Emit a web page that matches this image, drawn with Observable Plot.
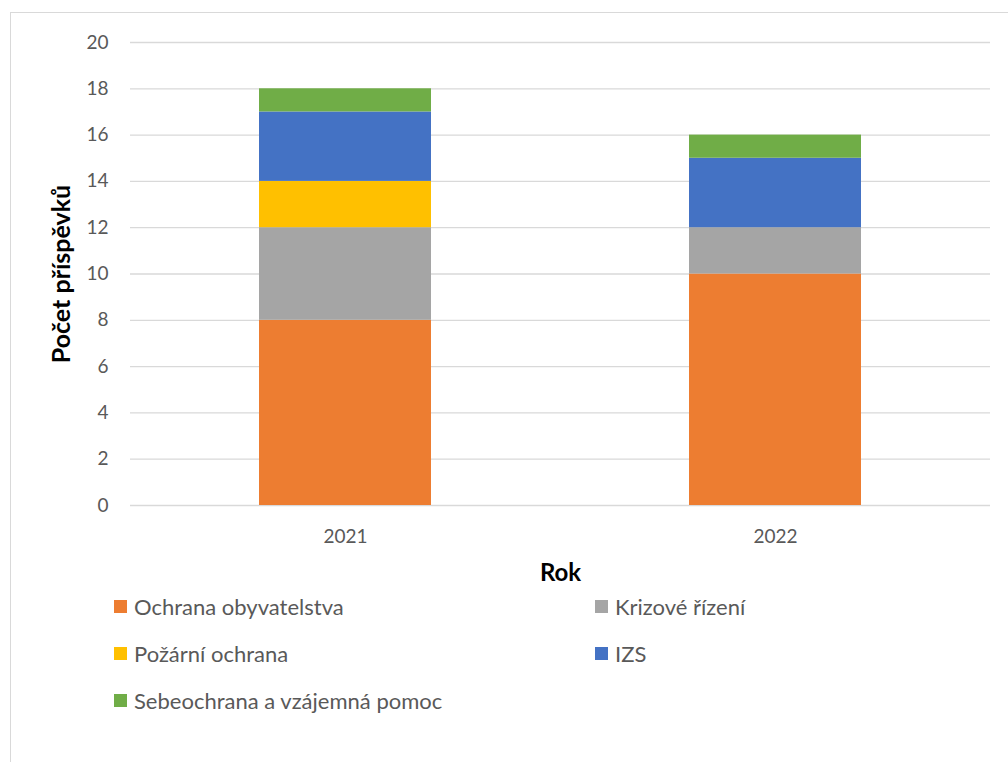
<!DOCTYPE html>
<html>
<head>
<meta charset="utf-8">
<script src="https://cdn.jsdelivr.net/npm/d3@7"></script>
<script src="https://cdn.jsdelivr.net/npm/@observablehq/plot@0.6"></script>
<style>
  html, body { margin: 0; padding: 0; background: #fff; }
  body { width: 1008px; height: 762px; position: relative; overflow: hidden; font-family: Lato, "Liberation Sans", sans-serif; }
  #frame { position: absolute; left: 10px; top: 12px; width: 1100px; height: 900px; border-left: 1.5px solid #d9d9d9; border-top: 1.5px solid #d9d9d9; }
  #chart { position: absolute; left: 0; top: 0; }
  .legend-item { position: absolute; display: flex; align-items: center; font-size: 22px; color: #595959; white-space: nowrap; }
  .legend-item .sw { width: 13px; height: 13px; margin-right: 7px; }
</style>
</head>
<body>
<div id="frame"></div>
<div id="chart"></div>
<div id="legend"></div>
<script>
const years = ["2021", "2022"];
const categories = ["Ochrana obyvatelstva", "Krizové řízení", "Požární ochrana", "IZS", "Sebeochrana a vzájemná pomoc"];
const colors = ["#ED7D31", "#A5A5A5", "#FFC000", "#4472C4", "#70AD47"];
const values2021 = [8, 4, 2, 3, 1];
const values2022 = [10, 2, 0, 3, 1];
const yTicks = [0, 2, 4, 6, 8, 10, 12, 14, 16, 18, 20];

const seriesValues = [values2021, values2022];
const data = [];
years.forEach((y, i) => categories.forEach((c, j) => data.push({year: y, category: c, value: seriesValues[i][j]})));

const plot = Plot.plot({
  width: 1008,
  height: 590,
  marginTop: 42,
  marginBottom: 85,
  marginLeft: 130,
  marginRight: 18,
  style: {fontFamily: "Lato, Liberation Sans, sans-serif", fontSize: "19px", color: "#595959", background: "transparent"},
  x: {domain: years, paddingInner: 0.6, paddingOuter: 0.3, label: null},
  y: {domain: [0, 20], ticks: yTicks, label: null},
  color: {domain: categories, range: colors},
  marks: [
    Plot.ruleY(yTicks, {stroke: "#d9d9d9", strokeWidth: 1.3}),
    Plot.barY(data, Plot.stackY({x: "year", y: "value", fill: "category", z: "category", order: categories})),
    Plot.axisY({ticks: yTicks, tickSize: 0, tickPadding: 22, fontSize: 19, fill: "#595959", label: null}),
    Plot.axisX({tickSize: 0, tickPadding: 24, fontSize: 19, fill: "#595959", label: null}),
    Plot.text(["Počet příspěvků"], {frameAnchor: "left", textAnchor: "middle", dx: -69, rotate: -90, fontWeight: "bold", fontSize: 25, fill: "#000"}),
    Plot.text(["Rok"], {frameAnchor: "bottom", dy: 75, fontWeight: "bold", fontSize: 24, fill: "#000"})
  ]
});
document.getElementById("chart").appendChild(plot);

const legendPos = [[114, 606], [595, 606], [114, 653], [595, 653], [114, 700]];
const legend = document.getElementById("legend");
categories.forEach((c, i) => {
  const item = document.createElement("div");
  item.className = "legend-item";
  item.style.left = legendPos[i][0] + "px";
  item.style.top = (legendPos[i][1] - 13) + "px";
  item.style.height = "26px";
  const sw = document.createElement("span");
  sw.className = "sw";
  sw.style.background = colors[i];
  item.appendChild(sw);
  item.appendChild(document.createTextNode(c));
  legend.appendChild(item);
});
</script>
</body>
</html>
